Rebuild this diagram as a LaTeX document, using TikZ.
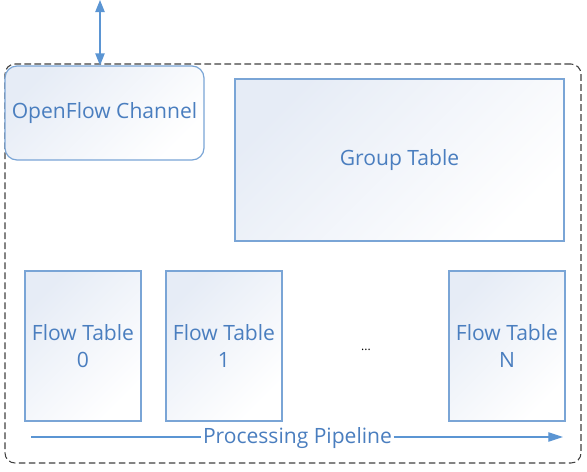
\documentclass[tikz,border=0pt]{standalone}
\usepackage{fontspec}
\setmainfont{Open Sans}
\usetikzlibrary{arrows.meta,shadings}
\definecolor{txtblue}{HTML}{4A7EBF}
\definecolor{edgeblue}{HTML}{7AA5D6}
\definecolor{arrblue}{HTML}{5B95D3}
\definecolor{fillblue}{HTML}{E6ECF6}
\definecolor{dashgray}{HTML}{404040}
\begin{document}
\begin{tikzpicture}[x=0.75pt,y=-0.75pt,
  box/.style={draw=edgeblue,line width=0.9pt,left color=fillblue,right color=white,shading angle=45,
    text=txtblue,font=\fontsize{15.8}{20}\selectfont,align=center,inner sep=0pt},
  lbl/.style={text=txtblue,font=\fontsize{15.8}{20}\selectfont,inner sep=1pt},
  conn/.style={draw=arrblue,line width=0.9pt}]
\useasboundingbox (0,0) rectangle (587,472);
% outer dashed frame
\node[draw=dashgray,dashed,dash pattern=on 5pt off 2.5pt,line width=0.8pt,rounded corners=7.5pt,
  minimum width=576*0.75pt,minimum height=399*0.75pt,inner sep=0pt] (frame) at (293,263.5) {};
% OpenFlow channel
\node[box,rounded corners=9pt,minimum width=199*0.75pt,minimum height=94*0.75pt] (ofc) at (104.5,113) {OpenFlow Channel};
\coordinate (top) at (100,0);
\draw[conn,{Triangle[length=9pt,width=7pt]}-{Triangle[length=9pt,width=7pt]}] (top) -- (top|-ofc.north);
% group table
\node[box,minimum width=329*0.75pt,minimum height=162*0.75pt] (group) at (399.5,160) {Group Table};
% flow tables
\node[box,minimum width=116*0.75pt,minimum height=150*0.75pt] (ft0) at (83,346) {Flow Table\\0};
\node[box,minimum width=116*0.75pt,minimum height=150*0.75pt] (ft1) at (224,346) {Flow Table\\1};
\node[box,minimum width=116*0.75pt,minimum height=150*0.75pt] (ftn) at (507,346) {Flow Table\\N};
\node[font=\fontsize{9}{10}\selectfont,text=black] (dots) at (366,350) {...};
% pipeline
\coordinate (ps) at (31,437);
\coordinate (pe) at (563,437);
\node[lbl,fill=white] (pl) at (297.5,438) {Processing Pipeline};
\draw[conn] (ps) -- (pl.west|-ps);
\draw[conn,-{Triangle[length=11pt,width=7pt]}] (pl.east|-pe) -- (pe);
\end{tikzpicture}
\end{document}
